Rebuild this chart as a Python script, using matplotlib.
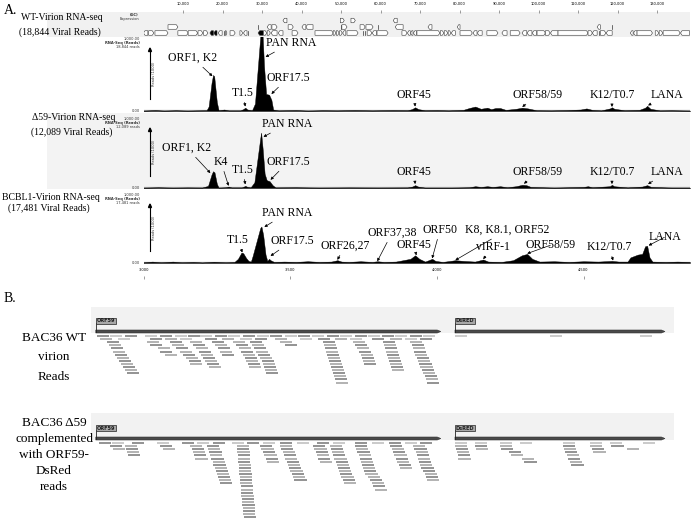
import numpy as np
import matplotlib.pyplot as plt
from matplotlib.patches import Polygon, Rectangle

W, H = 696, 518
serif = 'Liberation Serif'

# genome annotation (bp start, bp end, strand) for three rows of the gene track
genes_row0 = [(0, 1100, '-'), (1300, 2600, '+'), (2900, 6200, '+'), (8700, 11300, '+'),
              (11300, 13700, '+'), (13800, 15000, '+'), (15200, 16300, '+'), (16800, 17700, 'F'),
              (17800, 18600, 'F'), (18900, 19900, '-'), (20100, 20400, '|'), (20700, 21100, '+'),
              (21900, 23200, '+'), (24400, 25100, '+'), (25300, 26200, '-'), (26400, 26700, '|'),
              (29000, 30300, 'F'), (30400, 31200, '+'), (31300, 32100, '+'), (32300, 33800, '-'),
              (34100, 35300, '-'), (37600, 39100, '+'), (43400, 48000, '+'), (48000, 48700, '+'),
              (48800, 49500, '+'), (49600, 50300, '+'), (50400, 51200, '-'), (51500, 54300, '+'),
              (55300, 55600, '|'), (55800, 56100, '|'), (56600, 57800, '+'), (57900, 59000, '-'),
              (59100, 61900, '+'), (65400, 66700, '+'), (66800, 67500, '-'), (67600, 68200, '-'),
              (68300, 69100, '-'), (69200, 75000, '+'), (75100, 76000, '+'), (76100, 77000, '+'),
              (77100, 77800, '+'), (77900, 78900, '-'), (80100, 83200, '+'), (83400, 84400, '-'),
              (84500, 85700, '-'), (86900, 89700, '+'), (90700, 92000, '-'), (92800, 95300, '+'),
              (95800, 97000, '-'), (97100, 98300, '-'), (98400, 99500, '-'), (99600, 101700, '+'),
              (101700, 102900, '+'), (103000, 104900, '-'), (104900, 112500, '+'), (112500, 113600, '+'),
              (113600, 114800, '-'), (115100, 115400, '|'), (115600, 117000, '+'), (117100, 118600, '-'),
              (123200, 123900, '-'), (124000, 124900, '-'), (124900, 128800, '+'), (129500, 130400, '+'),
              (130500, 131400, '+'), (131500, 135800, '+'), (135900, 138200, '-')]
genes_row1 = [(6200, 8700, '+'), (28700, 29000, '|'), (31300, 32300, '-'), (32500, 33800, '+'),
              (36600, 37900, '+'), (40100, 41100, '-'), (41100, 42900, '-'), (49800, 50100, '|'),
              (50200, 51500, '+'), (54800, 56100, '+'), (56300, 58100, '+'), (59100, 59400, '|'),
              (63700, 65700, '-'), (72000, 73000, '-'), (79400, 80100, '-'), (114800, 115600, '-'),
              (118500, 118800, '|')]
genes_row2 = [(35300, 36300, '-'), (49800, 50800, '+'), (52500, 53600, '+'), (63200, 64200, '-')]
genome_ticks = [10000, 20000, 30000, 40000, 50000, 60000, 70000, 80000, 90000,
                100000, 110000, 120000, 130000]

# coverage profiles (position, reads)
wt_pos = [3000, 3040, 3070, 3110, 3150, 3180, 3215, 3222, 3232, 3237, 3241, 3250, 3256, 3275,
          3290, 3330, 3340, 3347, 3354, 3370, 3380, 3392, 3400, 3405, 3411, 3418, 3428, 3436,
          3442, 3460, 3520, 3560, 3610, 3660, 3720, 3780, 3850, 3900, 3915, 3926, 3937, 3960,
          4000, 4040, 4090, 4110, 4131, 4150, 4165, 4172, 4185, 4200, 4216, 4235, 4270, 4291,
          4310, 4340, 4390, 4440, 4490, 4510, 4530, 4560, 4590, 4597, 4605, 4640, 4690, 4710,
          4717, 4728, 4760, 4800, 4863]
wt_reads = [5, 12, 5, 10, 5, 8, 10, 60, 380, 486, 470, 120, 10, 20,
            8, 8, 25, 45, 20, 10, 100, 700, 1100, 1100, 600, 230, 220, 150,
            20, 8, 12, 5, 10, 8, 12, 8, 12, 10, 25, 50, 25, 10,
            12, 8, 15, 40, 60, 30, 40, 45, 25, 40, 40, 15, 30, 45,
            35, 10, 8, 12, 20, 35, 15, 8, 35, 50, 30, 10, 15, 45,
            70, 30, 8, 10, 5]
d59_pos = [3000, 3050, 3100, 3150, 3200, 3220, 3232, 3237, 3242, 3250, 3256, 3280, 3290, 3300,
           3335, 3342, 3347, 3353, 3365, 3378, 3390, 3398, 3401, 3406, 3413, 3420, 3430, 3440,
           3450, 3520, 3600, 3700, 3800, 3900, 3916, 3926, 3936, 3960, 4050, 4110, 4131, 4150,
           4172, 4190, 4216, 4240, 4270, 4291, 4305, 4320, 4400, 4500, 4515, 4530, 4590, 4597,
           4604, 4650, 4700, 4717, 4730, 4800, 4863]
d59_reads = [5, 10, 5, 8, 6, 30, 190, 236, 220, 60, 5, 10, 20, 8,
             8, 20, 30, 18, 8, 80, 450, 700, 780, 560, 200, 110, 95, 40,
             8, 10, 5, 8, 6, 8, 20, 40, 20, 5, 5, 10, 25, 15,
             25, 15, 25, 10, 25, 45, 40, 15, 5, 15, 25, 10, 25, 45,
             25, 8, 20, 40, 15, 5, 5]
bc_pos = [3000, 3030, 3060, 3100, 3130, 3170, 3200, 3240, 3280, 3310, 3322, 3334, 3340, 3350,
          3358, 3366, 3372, 3385, 3398, 3402, 3408, 3416, 3422, 3428, 3433, 3445, 3480, 3520,
          3560, 3600, 3640, 3661, 3675, 3700, 3740, 3780, 3797, 3820, 3860, 3910, 3926, 3940,
          3960, 3984, 3995, 4020, 4063, 4090, 4130, 4158, 4175, 4220, 4260, 4290, 4308, 4325,
          4350, 4400, 4450, 4500, 4550, 4597, 4620, 4650, 4660, 4685, 4700, 4710, 4717, 4725,
          4735, 4780, 4820, 4863]
bc_reads = [10, 20, 10, 20, 10, 15, 8, 18, 10, 15, 60, 150, 140, 70,
            30, 20, 100, 300, 500, 521, 400, 120, 30, 60, 40, 15, 20, 15,
            25, 15, 20, 40, 20, 15, 25, 15, 25, 15, 20, 60, 110, 60,
            20, 60, 30, 15, 40, 30, 20, 50, 20, 15, 40, 110, 130, 60,
            20, 25, 15, 25, 20, 30, 20, 20, 80, 120, 130, 240, 245, 80,
            20, 15, 20, 15]
cov_ticks = [3000, 3500, 4000, 4500]

# peak labels: text, text x/y in image pixels, peak position, reads
wt_notes = [('ORF1, K2', 193, 58, 3235, 470), ('PAN RNA', 291, 43, 3416, 730),
            ('ORF17.5', 288, 78, 3436, 230), ('T1.5', 243, 93, 3347, 60),
            ('ORF45', 414, 95, 3926, 60), ('ORF58/59', 538, 95, 4291, 55),
            ('K12/T0.7', 612, 95, 4597, 55), ('LANA', 667, 95, 4720, 75)]
d59_notes = [('PAN RNA', 287, 124, 3409, 720), ('ORF1, K2', 187, 148, 3228, 210),
             ('K4', 221, 162, 3290, 30), ('T1.5', 243, 170, 3347, 50),
             ('ORF17.5', 288, 162, 3433, 115), ('ORF45', 414, 172, 3926, 55),
             ('ORF58/59', 538, 172, 4297, 60), ('K12/T0.7', 612, 172, 4597, 55),
             ('LANA', 667, 172, 4720, 55)]
bc_notes = [('PAN RNA', 287, 213, 3412, 514), ('T1.5', 238, 240, 3337, 150),
            ('ORF17.5', 292, 241, 3433, 100), ('ORF26,27', 345, 246, 3661, 45),
            ('ORF37,38', 392, 233, 3797, 25), ('ORF45', 414, 245, 3930, 110),
            ('ORF50', 440, 230, 3984, 65), ('K8, K8.1, ORF52', 507, 230, 4063, 40),
            ('vIRF-1', 493, 247, 4158, 55), ('ORF58/59', 551, 245, 4308, 135),
            ('K12/T0.7', 609, 247, 4601, 35), ('LANA', 665, 237, 4722, 250)]

# panel B reads (bp start on the ORF59-DsRed construct)
read_len = 42
orf59 = (0, 1191)
dsred = (1240, 1965)
wt_row0 = [4, 49, 101, 170, 222, 273, 318, 360, 412, 456, 508, 556, 601, 653, 698, 746,
           798, 843, 895, 940, 988, 1033, 1085, 1130, 1240, 1568, 1879]
wt_row1 = [15, 77, 187, 239, 291, 377, 436, 498, 550, 619, 705, 767, 826, 877, 953, 1016,
           1068, 1119]
wt_piles = [(2, [39, 46, 53, 60, 67, 74, 80, 87, 94, 101, 108]),
            (2, [177, 187, 215, 222, 239]),
            (2, [256, 263, 277, 291, 301, 311, 322, 325]),
            (2, [325, 336, 346, 356, 363, 370, 377, 384, 391]),
            (2, [401, 412, 422, 429, 436]),
            (2, [474, 484, 494, 501, 508, 515, 518, 525, 529]),
            (2, [532, 539, 546, 553, 560, 567, 574, 577, 581, 584, 588]),
            (2, [636, 653]),
            (2, [784, 788, 791, 795, 798, 802, 805, 809, 812, 816, 819, 823, 826, 830]),
            (2, [888, 895, 902, 909, 915, 919, 922, 926]),
            (2, [992, 995, 998, 1002, 1005, 1009, 1012, 1016, 1019, 1023]),
            (2, [1085, 1090, 1094, 1099, 1103, 1108, 1112, 1117, 1121, 1126, 1130, 1135,
                 1139, 1143])]
d59_row0 = [11, 56, 125, 211, 298, 349, 405, 470, 522, 577, 636, 695, 764, 819, 895, 953,
            1012, 1067, 1119, 1240, 1309, 1395, 1464, 1613, 1706, 1775, 1889]
d59_row1 = []
d59_piles = [(1, [49, 60]), (1, [100, 104, 108, 112]), (1, [222, 232]),
             (1, [326, 331, 336, 340, 344]),
             (1, [384, 388, 392, 395, 399, 403, 406, 410, 414, 417, 421, 425, 429]),
             (1, [487, 488, 489, 490, 491, 492, 493, 494, 495, 496, 497, 498, 499, 500, 501,
                  502, 503, 504, 505, 506, 507, 508, 509, 510]),
             (1, [567, 572, 577, 582, 586, 590]),
             (1, [636, 640, 645, 650, 654, 659, 663, 668, 672, 677, 681, 686]),
             (1, [750, 755, 759, 764, 768, 773]),
             (1, [808, 812, 816, 820, 824, 828, 832, 836, 840, 844, 848, 852, 856]),
             (1, [895, 899, 903, 907, 911, 915, 919, 923, 927, 931]),
             (11, [940, 946, 952, 958, 964]),
             (1, [1016, 1021, 1026, 1031, 1036, 1041, 1046, 1051]),
             (1, [1095, 1100, 1104, 1108, 1112, 1116, 1120, 1124]),
             (9, [1130, 1135, 1140, 1144]),
             (1, [1240, 1243, 1246, 1249, 1252]), (1, [1309, 1313]), (1, [1395, 1400]),
             (3, [1425, 1432]), (5, [1470, 1480]),
             (1, [1613, 1617, 1621, 1626, 1630, 1636, 1642]),
             (1, [1706, 1712, 1718]), (1, [1780, 1835])]


def box(x0, y0, x1, y1):
    return [x0 / W, 1 - y1 / H, (x1 - x0) / W, (y1 - y0) / H]


def band(x0, y0, x1, y1, color='#f1f1f1'):
    fig.add_artist(Rectangle((x0 / W, 1 - y1 / H), (x1 - x0) / W, (y1 - y0) / H,
                             transform=fig.transFigure, facecolor=color,
                             edgecolor='none', zorder=-5))


def ftext(x, y, s, **kw):
    fig.text(x / W, 1 - y / H, s, **kw)


def ruler(y, lo, hi, ticks, labels):
    ax = fig.add_axes(box(143.5, y, 690, y + 1))
    ax.set_xlim(lo, hi)
    ax.set_xticks(ticks)
    ax.set_xticklabels(labels)
    ax.set_yticks([])
    for s in ax.spines.values():
        s.set_visible(False)
    ax.patch.set_alpha(0)
    ax.tick_params(axis='x', bottom=True, top=False, labelbottom=False, labeltop=True,
                   length=2, width=0.4, labelsize=2.6, pad=0.5, color='#555555')


def track(y0, y1, pos, reads, notes, name1, name2, cx, count):
    ax = fig.add_axes(box(143.5, y0, 690, y1))
    ax.set_xlim(3000, 4863)
    ax.set_ylim(0, 1000)
    ax.axhline(0, color='#9a9a9a', lw=1.6, zorder=1)
    ax.fill_between(pos, reads, color='black', lw=0.3, zorder=2)
    ax.axis('off')
    for label, tx, ty, px_, py_ in notes:
        ax.annotate(label, xy=(px_, py_), xytext=(tx, H - ty), textcoords='figure pixels',
                    ha='center', va='center', fontsize=8.5, family=serif,
                    arrowprops=dict(arrowstyle='-|>', color='black', lw=0.5,
                                    mutation_scale=4, shrinkA=0.5, shrinkB=0),
                    annotation_clip=False)
    ftext(cx, name1[1], name1[0], ha='center', va='center', fontsize=7, family=serif)
    ftext(cx - 2, name2[1], name2[0], ha='center', va='center', fontsize=7, family=serif)
    ftext(140, y0 + 2.5, '1,000.00', ha='right', va='center', fontsize=2.6, color='#333333')
    ftext(140, y0 + 6, 'RNA-Seq (Reads)', ha='right', va='center', fontsize=2.6,
          weight='bold', color='#333333')
    ftext(140, y0 + 9.5, count + ' reads', ha='right', va='center', fontsize=2.6,
          color='#333333')
    ftext(140, y1, '0.00', ha='right', va='center', fontsize=2.6, color='#333333')
    top, bot = y0 + 11, y1 - 12
    fig.add_artist(plt.Line2D([150 / W, 150 / W], [1 - bot / H, 1 - (top + 3) / H],
                              color='black', lw=0.8))
    fig.add_artist(Polygon([(148.5 / W, 1 - (top + 3.5) / H), (151.5 / W, 1 - (top + 3.5) / H),
                            (150 / W, 1 - top / H)], closed=True, color='black',
                           transform=fig.transFigure))
    ftext(154, (top + bot) / 2, 'Reads (1000)', rotation=90, ha='center', va='center',
          fontsize=2.6, color='#333333')
    return ax


def gene_glyph(ax, s, e, strand, yc, h=0.09, head=380):
    if strand == '|':
        ax.plot([(s + e) / 2] * 2, [yc - h, yc + h], color='#333333', lw=0.5)
        return
    hd = min(head, (e - s) * 0.5)
    if strand in '+':
        pts = [(s, yc - h), (e - hd, yc - h), (e, yc), (e - hd, yc + h), (s, yc + h)]
    else:
        pts = [(s, yc), (s + hd, yc - h), (e, yc - h), (e, yc + h), (s + hd, yc + h)]
    fc = 'black' if strand == 'F' else 'white'
    ax.add_patch(Polygon(pts, closed=True, facecolor=fc, edgecolor='#333333', lw=0.4))


def reads_panel(y0, y1, row0, row1, piles, rowstart, names):
    ax = fig.add_axes(box(90, y0, 678, y1))
    ax.set_xlim(-20, 2010)
    ax.set_ylim(y1 - y0, 0)
    ax.axis('off')
    ax.add_patch(Rectangle((-17, 0), 2014, rowstart - 3, facecolor='#f2f2f2',
                           edgecolor='none', zorder=0))
    bar_y = rowstart - 4.5
    for (s, e), name in [(orf59, 'ORF59'), (dsred, 'DsRED')]:
        ax.add_patch(Polygon([(s, bar_y - 1.5), (e - 12, bar_y - 1.5), (e, bar_y),
                              (e - 12, bar_y + 1.5), (s, bar_y + 1.5)], closed=True,
                             facecolor='#4a4a4a', edgecolor='#333333', lw=0.4, zorder=2))
        ax.plot([s, s], [bar_y - 9, bar_y], color='#222222', lw=0.6, zorder=3)
        ax.text(s + 2, bar_y - 10.5, name, fontsize=3.6, weight='bold', va='center',
                ha='left', color='#222222', zorder=4,
                bbox=dict(boxstyle='square,pad=0.15', facecolor='#a8a8a8',
                          edgecolor='#222222', lw=0.5))
    shades = ['#8f8f8f', '#b0b0b0', '#c8c8c8']
    ys, xs, cs = [], [], []
    for i, s in enumerate(row0):
        ys.append(0); xs.append(s); cs.append(shades[i % 2 * 2 if s < 1200 else 2])
    for i, s in enumerate(row1):
        ys.append(1); xs.append(s); cs.append(shades[(i + 1) % 3])
    for j, (r, starts) in enumerate(piles):
        for i, s in enumerate(starts):
            ys.append(r + i); xs.append(s); cs.append(shades[(i + j) % 2])
    ys = rowstart + 3.1 * np.array(ys)
    xs = np.array(xs)
    ax.hlines(ys, xs, xs + read_len, colors=cs, lw=1.35, zorder=2)
    for text, yy in names:
        ftext(54, yy, text, ha='center', va='center', fontsize=9.5, family=serif)


fig = plt.figure(figsize=(W / 100, H / 100), dpi=100)

# panel A
ftext(4, 10, 'A.', ha='left', va='center', fontsize=10, family=serif)
band(47, 12, 690, 37)
band(47, 113, 690, 189, '#f3f3f3')
ruler(9, 0, 138300, genome_ticks, [f'{t:,}' for t in genome_ticks])
axg = fig.add_axes(box(143.5, 12, 690, 37))
axg.set_xlim(0, 138300)
axg.set_ylim(0, 1)
axg.axis('off')
for row, yc in [(genes_row0, 0.16), (genes_row1, 0.40), (genes_row2, 0.66)]:
    for s, e, st in row:
        gene_glyph(axg, s, e, st, yc)
ftext(139, 15, '(GC)', ha='right', va='center', fontsize=2.6, weight='bold', color='#333333')
ftext(139, 19, 'Expression', ha='right', va='center', fontsize=2.6, color='#333333')

track(37, 111, wt_pos, wt_reads, wt_notes, ('WT-Virion RNA-seq', 18),
      ('(18,844 Viral Reads)', 32), 62, '18,844')
track(117, 188, d59_pos, d59_reads, d59_notes, ('\u039459-Virion RNA-seq', 118),
      ('(12,089 Viral Reads)', 132), 74, '12,089')
track(193, 263, bc_pos, bc_reads, bc_notes, ('BCBL1-Virion RNA-seq', 198),
      ('(17,481 Viral Reads)', 208), 51, '17,481')
ruler(275, 3000, 4863, cov_ticks, [f'{t:,}' for t in cov_ticks])

# panel B
ftext(4, 299, 'B.', ha='left', va='center', fontsize=10, family=serif)
reads_panel(307, 395, wt_row0, wt_row1, wt_piles, 29,
            [('BAC36 WT', 338), ('virion', 357), ('Reads', 377)])
reads_panel(413, 518, d59_row0, d59_row1, d59_piles, 30,
            [('BAC36 \u039459', 423), ('complemented', 439), ('with ORF59-', 455),
             ('DsRed', 471), ('reads', 487)])

fig.savefig('out.png', dpi=100)
